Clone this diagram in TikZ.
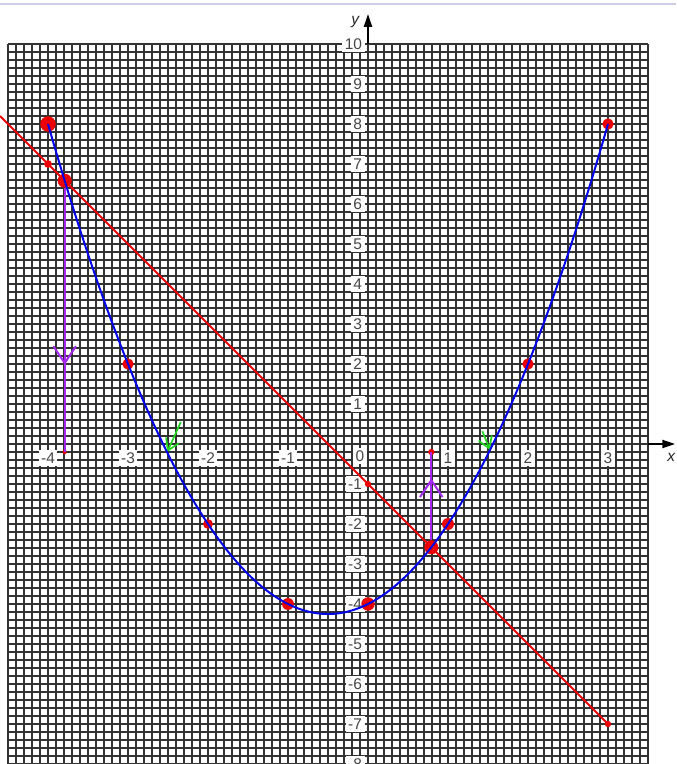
\documentclass[tikz,border=0pt]{standalone}
\usepackage{fontspec}
\setmainfont{Liberation Sans}
\usepackage{tikz}
\usetikzlibrary{arrows.meta,decorations.markings}
\definecolor{gridgray}{RGB}{50,50,50}
\definecolor{labelgray}{RGB}{70,70,70}
\definecolor{curveblue}{RGB}{0,0,235}
\definecolor{linered}{RGB}{235,0,0}
\definecolor{markpurple}{RGB}{165,40,240}
\definecolor{tickgreen}{RGB}{30,215,30}
\definecolor{edgelavender}{RGB}{205,205,230}
\tikzset{
  gridline/.style={draw=gridgray, line width=0.05cm, step=0.2cm},
  numlabel/.style={fill=white, text=labelgray, font=\fontsize{11}{13}\selectfont,
                   inner sep=1.8pt},
  axislabel/.style={text=black!85, font=\fontsize{11}{13}\selectfont\itshape, inner sep=0pt},
  axisarrow/.style={draw=black, line width=1.4pt,
                    -{Triangle[length=0.32cm,width=0.2cm]}},
  rdot/.style={circle, fill=linered, inner sep=0pt, minimum size=#1},
  drop/.style={draw=markpurple, line width=1.4pt, postaction={decorate},
               decoration={markings, mark=at position #1 with
                 {\arrow{Straight Barb[length=12pt,width=16pt]}}}},
  hint/.style={draw=tickgreen, line width=1.2pt, -{Straight Barb[length=8pt,width=10pt]}},
}

\begin{document}
\begin{tikzpicture}[x=2cm, y=1cm]
\clip (-4.6,-8) rectangle (3.85,11.1);
\draw[edgelavender, line width=0.8pt] (-4.6,11) -- (3.85,11);

% grid paper
\draw[gridline] (-4.5,-8) grid (3.5,10);

% axes
\coordinate (ybase) at (0,10);
\coordinate (ytip) at (0,10.75);
\coordinate (xbase) at (3.5,0);
\coordinate (xtip) at (3.84,0);
\draw[axisarrow] (ybase) -- (ytip);
\draw[axisarrow] (xbase) -- (xtip);
\node[axislabel] (ylab) at (-0.16,10.55) {y};
\node[axislabel] (xlab) at (3.79,-0.33) {x};

\foreach \k in {-4,...,-1,1,2,3}
  \node[numlabel] (xl\k) at (\k,-0.35) {\k};
\foreach \k in {-8,...,-1,1,2,...,10}
  \node[numlabel, anchor=east] (yl\k) at (-0.04,\k) {\k};
\node[numlabel] (zero) at (-0.1,-0.3) {0};

% plotted points
\node[rdot=11pt]  (pm4) at (-4,8) {};
\node[rdot=5.5pt] (qm4) at (-4,7) {};
\node[rdot=8pt]   (pm3) at (-3,2) {};
\node[rdot=7pt]   (pm2) at (-2,-2) {};
\node[rdot=8.5pt] (pm1) at (-1,-4) {};
\node[rdot=9.5pt] (p0)  at (0,-4) {};
\node[rdot=4.5pt] (q0)  at (0,-1) {};
\node[rdot=8.5pt] (p1)  at (1,-2) {};
\node[rdot=8pt]   (p2)  at (2,2) {};
\node[rdot=8pt]   (p3)  at (3,8) {};
\node[rdot=4.5pt] (lend) at (3,-7) {};

% intersections of line and curve
\node[rdot=10pt]  (pa) at (-3.7913,6.5826) {};
\node[rdot=10pt]  (pb) at (0.7913,-2.5826) {};
\node[rdot=3pt]   (fa) at (-3.7913,-0.2) {};
\node[rdot=4.5pt] (fb) at (0.7913,-0.2) {};
\draw[drop=0.67] (pa) -- (fa.center);
\draw[drop=0.70] (pb) -- (fb.center);

% green hints at the roots
\coordinate (ga0) at (-2.34,0.55);
\coordinate (ga1) at (-2.51,-0.2);
\coordinate (gb0) at (1.43,0.32);
\coordinate (gb1) at (1.525,-0.15);
\draw[hint] (ga0) -- (ga1);
\draw[hint] (gb0) -- (gb1);

% line y = -2x - 1
\coordinate (lstart) at (-4.6,8.2);
\draw[linered, line width=1.3pt] (lstart) -- (lend.center);

% curve y = x^2 + x - 4
\draw[curveblue, line width=1.4pt] plot[domain=-4:3, samples=120, smooth] (\x,{\x*\x+\x-4});
\end{tikzpicture}
\end{document}
